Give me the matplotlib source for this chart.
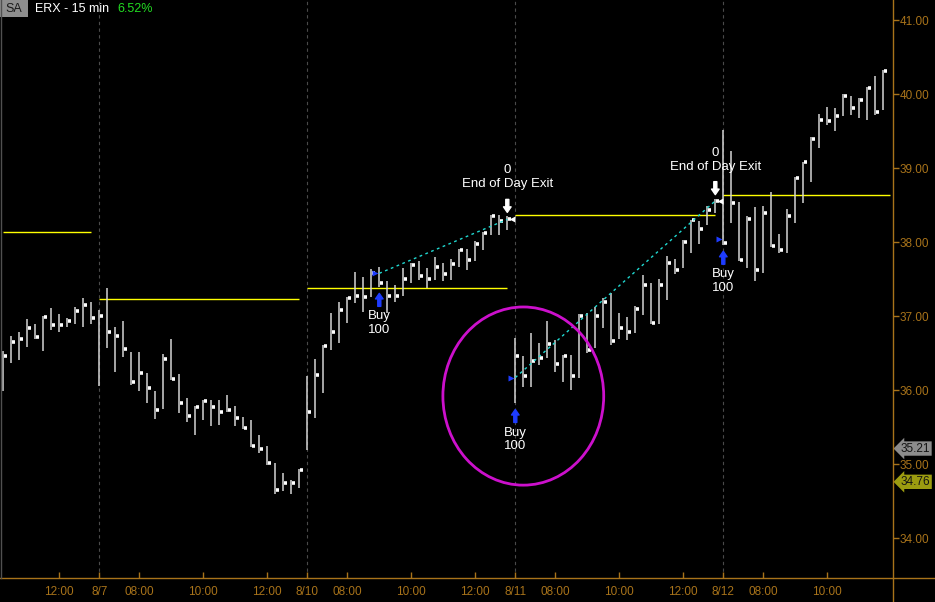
import matplotlib
matplotlib.use('Agg')
import matplotlib.pyplot as plt
from matplotlib.patches import Ellipse, Rectangle
from matplotlib.lines import Line2D
from matplotlib.transforms import offset_copy, blended_transform_factory
import numpy as np

plt.rcParams['font.family'] = ['Liberation Sans', 'DejaVu Sans']

# ERX 15 min bars, 8/6 (partial) .. 8/12
highs = [36.53, 36.73, 36.79, 36.96, 36.89, 37.00, 37.11, 37.03, 36.98, 37.12, 37.24, 37.19,
         37.08, 37.38, 36.85, 36.93, 36.52, 36.52, 36.23, 35.99, 36.49, 36.69, 36.22, 35.89, 35.79,
         35.87, 35.86, 35.86, 35.93, 35.79, 35.64, 35.59, 35.39, 35.25, 35.02, 34.88, 34.78, 34.94,
         36.19, 36.42, 36.61, 37.04, 37.19, 37.26, 37.60, 37.53, 37.64, 37.67, 37.47, 37.42, 37.65,
         37.72, 37.74, 37.65, 37.80, 37.72, 37.78, 37.91, 37.91, 38.02, 38.14, 38.37, 38.37, 38.35,
         36.70, 36.46, 36.77, 36.64, 36.94, 36.68, 36.48, 36.47, 37.03, 37.04, 37.13, 37.24, 37.32,
         37.04, 36.99, 37.14, 37.56, 37.45, 37.50, 37.81, 37.77, 38.03, 38.30, 38.29, 38.49, 38.59,
         39.52, 39.23, 38.54, 38.35, 38.48, 38.49, 38.68, 38.11, 38.45, 38.88, 39.09, 39.42, 39.74,
         39.83, 39.81, 40.00, 39.98, 39.95, 40.10, 40.25, 40.33]
lows = [35.99, 36.37, 36.41, 36.59, 36.69, 36.53, 36.82, 36.79, 36.86, 36.89, 36.86, 36.89,
        36.06, 36.57, 36.24, 36.45, 36.07, 35.99, 35.83, 35.61, 35.75, 36.14, 35.69, 35.57, 35.39,
        35.60, 35.51, 35.53, 35.71, 35.51, 35.47, 35.23, 35.15, 34.99, 34.60, 34.63, 34.60, 34.67,
        35.19, 35.62, 35.96, 36.54, 36.64, 36.91, 37.18, 37.06, 37.26, 37.39, 37.04, 37.19, 37.28,
        37.45, 37.49, 37.38, 37.49, 37.47, 37.49, 37.67, 37.63, 37.75, 37.90, 38.10, 38.10, 38.17,
        35.82, 36.04, 36.04, 36.34, 36.43, 36.24, 36.11, 36.00, 36.17, 36.50, 36.57, 36.84, 36.61,
        36.69, 36.68, 36.77, 37.02, 36.90, 36.90, 37.22, 37.57, 37.65, 37.85, 37.98, 38.23, 38.39,
        37.96, 38.26, 37.74, 37.65, 37.47, 37.58, 37.93, 37.86, 37.85, 38.26, 38.53, 38.81, 39.28,
        39.59, 39.51, 39.71, 39.72, 39.68, 39.65, 39.72, 39.79]
closes = [36.46, 36.65, 36.69, 36.84, 36.72, 36.99, 36.88, 36.88, 36.94, 37.07, 37.15, 36.97,
          37.00, 36.78, 36.73, 36.55, 36.11, 36.23, 36.03, 35.73, 36.42, 36.15, 35.83, 35.65, 35.77,
          35.85, 35.77, 35.70, 35.73, 35.62, 35.49, 35.24, 35.20, 35.01, 34.65, 34.75, 34.75, 34.92,
          35.70, 36.20, 36.60, 36.79, 37.08, 37.24, 37.27, 37.26, 37.58, 37.45, 37.28, 37.28, 37.51,
          37.69, 37.55, 37.50, 37.67, 37.57, 37.71, 37.89, 37.76, 37.98, 38.13, 38.36, 38.29, 38.31,
          36.46, 36.19, 36.39, 36.43, 36.62, 36.36, 36.46, 36.19, 37.00, 36.54, 37.00, 37.19, 36.66,
          36.84, 36.79, 37.10, 37.42, 36.91, 37.42, 37.72, 37.63, 38.00, 38.30, 38.18, 38.43, 38.56,
          37.99, 38.53, 37.76, 38.32, 37.62, 38.39, 37.95, 37.90, 38.35, 38.87, 39.09, 39.40, 39.66,
          39.64, 39.71, 39.98, 39.81, 39.93, 40.08, 39.76, 40.32]

day_names = ['8/6', '8/7', '8/10', '8/11', '8/12']
bars_per_day = 26
bars_shown_first_day = 12
day_levels = [38.14, 37.23, 37.38, 38.37, 38.64]
tick_times = ['08:00', '10:00', '12:00']

# trades: (bar, price)
entries = [(47, 37.58), (64, 36.17), (90, 38.05)]
exits = [(63, 38.31), (89, 38.56)]
price_ticks = [34, 35, 36, 37, 38, 39, 40, 41]
marker_levels = [(35.21, '#8c8c8c'), (34.76, '#9c9c10')]

axis_col = '#a8731a'

fig = plt.figure(figsize=(9.35, 6.02), dpi=100, facecolor='black')
ax = fig.add_axes([0, 24 / 602, 893 / 935, 578 / 602])
ax.set_facecolor('black')

n = len(highs)
x = np.arange(n)
ax.set_xlim(-0.41, 111.21)
ax.set_ylim(33.459, 41.277)

day_start = [bars_shown_first_day - bars_per_day + bars_per_day * k for k in range(len(day_names))]

# day separators
for d in day_start[1:]:
    ax.axvline(d, color='#4a4a4a', lw=0.8, ls=(0, (3, 3)), zorder=1)

# session level lines
for k, lev in enumerate(day_levels):
    a = max(day_start[k], 0)
    b = min(day_start[k] + bars_per_day - 1, n - 1)
    if k == len(day_levels) - 1:
        b = 110.8
    ax.hlines(lev, a, b, color='#ffff00', lw=1.0, zorder=2)

# bars
ax.vlines(x, lows, highs, color='#d4d4d4', lw=1.1, zorder=3)
ax.hlines(closes, x + 0.05, x + 0.42, color='white', lw=2.6, zorder=3)

# trade lines
ax.plot([entries[0][0], exits[0][0]], [entries[0][1], exits[0][1]], color='#20d8d0',
        lw=1.0, ls=(0, (2, 2.5)), zorder=4)
ax.plot([entries[1][0], exits[1][0]], [entries[1][1], exits[1][1]], color='#20d8d0',
        lw=1.0, ls=(0, (2, 2.5)), zorder=4)

blue = '#1e3cff'
for b, p in entries:
    ax.plot(b - 0.5, p, marker='>', color=blue, ms=5, mec='none', zorder=5)
    lo = lows[b]
    tip = offset_copy(ax.transData, fig=fig, x=0, y=-6, units='dots')
    ax.annotate('', xy=(b, lo), xycoords=tip, xytext=(0, -13), textcoords='offset pixels',
                arrowprops=dict(arrowstyle='simple,head_length=0.4,head_width=0.55,tail_width=0.22',
                                color=blue, shrinkA=0, shrinkB=0))
    ax.annotate('Buy\n100', xy=(b, lo), xytext=(0, -36), textcoords='offset pixels',
                ha='center', va='center', color='white', fontsize=9.5, linespacing=1.2)

for b, p in exits:
    ax.plot(b + 0.55, p, marker='<', color='white', ms=5, mec='none', zorder=5)
    hi = highs[b]
    tip = offset_copy(ax.transData, fig=fig, x=0, y=4, units='dots')
    ax.annotate('', xy=(b, hi), xycoords=tip, xytext=(0, 13), textcoords='offset pixels',
                arrowprops=dict(arrowstyle='simple,head_length=0.4,head_width=0.55,tail_width=0.22',
                                color='white', shrinkA=0, shrinkB=0))
    ax.annotate('0\nEnd of Day Exit', xy=(b, hi), xytext=(0, 39), textcoords='offset pixels',
                ha='center', va='center', color='white', fontsize=9.5, linespacing=1.2)

ax.add_patch(Ellipse((65, 35.92), 20.1, 2.41, fill=False, ec='#cc10cc', lw=2, zorder=6))

# axes
for s in ax.spines.values():
    s.set_visible(False)
ax.yaxis.tick_right()
ax.set_yticks(price_ticks)
ax.set_yticklabels(['%.2f' % v for v in price_ticks])
ax.tick_params(axis='y', colors=axis_col, direction='out', length=4, width=1, pad=1,
               labelsize=8.5)

xt, xl = [], []
for k, name in enumerate(day_names):
    if k > 0:
        xt.append(day_start[k])
        xl.append(name)
    for t in tick_times:
        hh, mm = t.split(':')
        off = (int(hh) * 60 + int(mm) - 405) / 15
        pos = day_start[k] + off
        if -0.4 < pos < 111:
            xt.append(pos)
            xl.append(t)
ax.set_xticks(xt)
ax.set_xticklabels(xl)
ax.tick_params(axis='x', colors=axis_col, direction='in', length=4, width=1, pad=6,
               labelsize=8.5)

fig.add_artist(Line2D([0, 1], [24 / 602, 24 / 602], color=axis_col, lw=1,
                      transform=fig.transFigure))
fig.add_artist(Line2D([893 / 935, 893 / 935], [0, 1], color=axis_col, lw=1,
                      transform=fig.transFigure))
fig.add_artist(Line2D([0.5 / 935, 0.5 / 935], [24 / 602, 1], color='#505050', lw=1,
                      transform=fig.transFigure))

trans = blended_transform_factory(ax.transAxes, ax.transData)
for lev, col in marker_levels:
    ax.text(1.0 + 8 / 893, lev, '%.2f' % lev, transform=trans, ha='left', va='center',
            fontsize=8.5, color='#141414', clip_on=False,
            bbox=dict(boxstyle='larrow,pad=0.1', fc=col, ec='none'))

# header
fig.add_artist(Rectangle((0, 1 - 17 / 602), 28 / 935, 17 / 602, transform=fig.transFigure,
                         fc='#8e8e8e', ec='none'))
fig.text(14 / 935, 1 - 9 / 602, 'SA', color='#1a1a1a', fontsize=9, ha='center', va='center')
fig.text(35 / 935, 1 - 9 / 602, 'ERX - 15 min', color='white', fontsize=9, ha='left', va='center')
fig.text(117 / 935, 1 - 9 / 602, '6.52%', color='#22dd22', fontsize=9, ha='left', va='center')

fig.savefig('out.png', dpi=100, facecolor='black')
